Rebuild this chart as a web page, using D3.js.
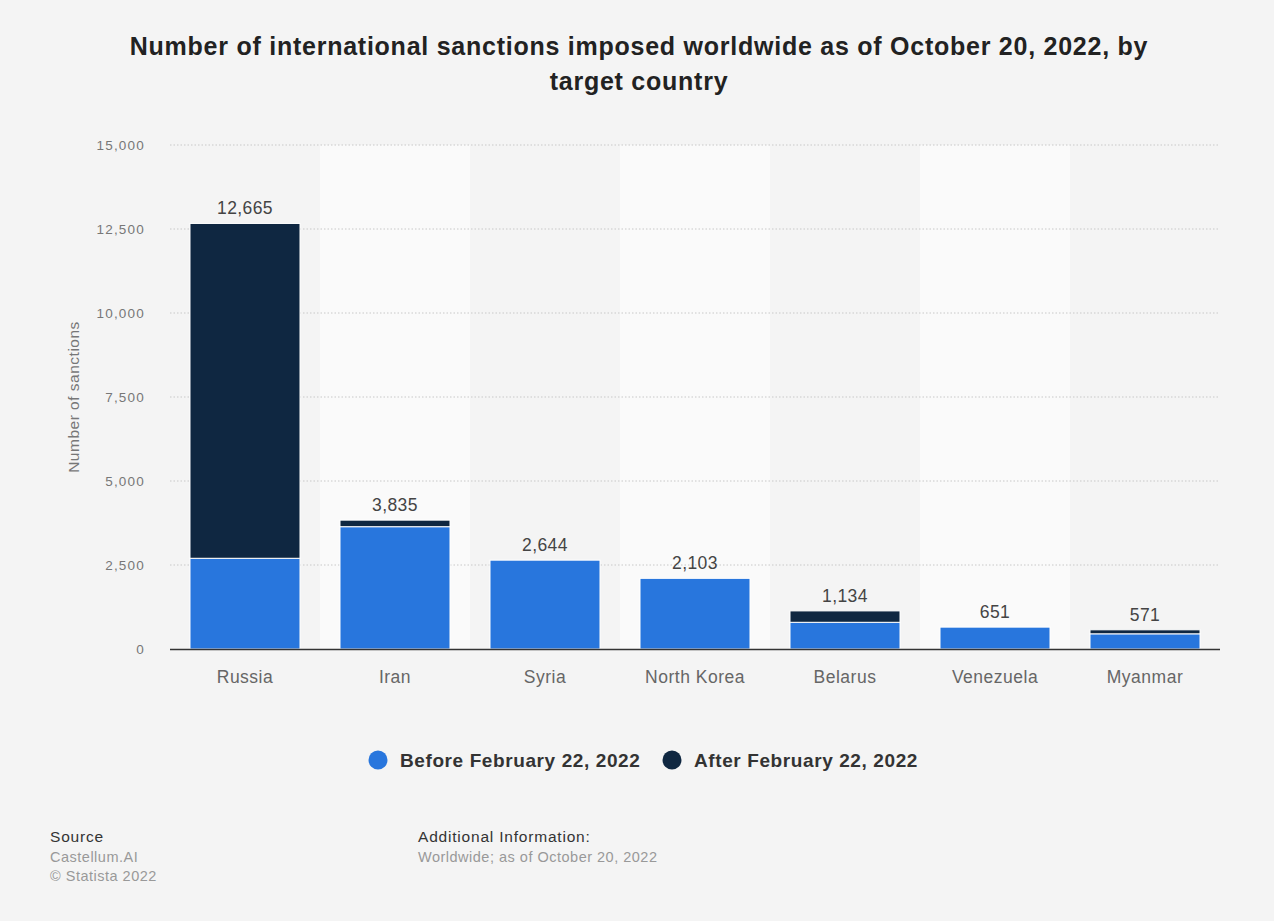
<!DOCTYPE html>
<html><head><meta charset="utf-8">
<script src="https://cdn.jsdelivr.net/npm/d3@7"></script>
<style>
body{margin:0;background:#f4f4f4;font-family:"Liberation Sans",Arial,Helvetica,sans-serif;}
</style></head>
<body>
<svg id="chart" width="1274" height="921"></svg>
<script>
const categories = ["Russia","Iran","Syria","North Korea","Belarus","Venezuela","Myanmar"];
const seriesNames = ["Before February 22, 2022","After February 22, 2022"];
const beforeValues = [2700, 3640, 2644, 2103, 795, 651, 452];
const afterValues = [9965, 195, 0, 0, 339, 0, 119];
const totalLabels = ["12,665","3,835","2,644","2,103","1,134","651","571"];
const yTicks = [0, 2500, 5000, 7500, 10000, 12500, 15000];
const colors = ["#2876dd", "#0f2741"];

const svg = d3.select("#chart");
svg.append("rect").attr("width",1274).attr("height",921).attr("fill","#f4f4f4");

const x = d3.scaleBand().domain(categories).range([170,1220]).paddingInner(0.2667).paddingOuter(0.1333);
const xBand = d3.scaleBand().domain(categories).range([170,1220]);
const y = d3.scaleLinear().domain([0,15000]).range([649,145]);

// alternating column backgrounds
svg.append("g").selectAll("rect").data(categories.filter((d,i)=>i%2===1)).join("rect")
  .attr("x",d=>xBand(d)).attr("width",xBand.bandwidth())
  .attr("y",y(15000)).attr("height",y(0)-y(15000)).attr("fill","#fafafa");

// grid
const grid = svg.append("g");
grid.selectAll("line").data(yTicks.filter(t=>t>0)).join("line")
  .attr("x1",170).attr("x2",1220).attr("y1",d=>y(d)).attr("y2",d=>y(d))
  .attr("stroke","#c8c8c8").attr("stroke-dasharray","1.5,2").attr("stroke-width",1);

// y axis
const yAxis = svg.append("g").attr("transform","translate(145,0)")
  .call(d3.axisLeft(y).tickValues(yTicks).tickSize(0).tickPadding(0).tickFormat(d3.format(",")));
yAxis.select(".domain").remove();
yAxis.selectAll("text").attr("fill","#777").attr("font-size",13.5).attr("letter-spacing",1.2)
  .attr("font-family","Liberation Sans, Arial, sans-serif");

svg.append("text").attr("transform","translate(79,397) rotate(-90)")
  .attr("text-anchor","middle").attr("fill","#777").attr("font-size",15.5).attr("letter-spacing",0.5)
  .text("Number of sanctions");

// stacked bars
const stackData = categories.map((c,i)=>({cat:c, before:beforeValues[i], after:afterValues[i]}));
const series = d3.stack().keys(["before","after"])(stackData);
svg.append("g").selectAll("g").data(series).join("g")
  .attr("fill",(d,i)=>colors[i])
  .selectAll("rect").data(d=>d.filter(p=>p[1]-p[0]>0)).join("rect")
  .attr("x",d=>x(d.data.cat)).attr("width",x.bandwidth())
  .attr("y",d=>y(d[1])).attr("height",d=>y(d[0])-y(d[1]))
  .attr("stroke","#ffffff").attr("stroke-width",1);

// baseline
svg.append("line").attr("x1",170).attr("x2",1220).attr("y1",649.5).attr("y2",649.5)
  .attr("stroke","#333").attr("stroke-width",1.5);

// value labels
svg.append("g").selectAll("text").data(stackData).join("text")
  .attr("x",d=>x(d.cat)+x.bandwidth()/2).attr("y",d=>y(d.before+d.after)-9)
  .attr("text-anchor","middle").attr("fill","#444").attr("font-size",17.5).attr("letter-spacing",0.4)
  .text((d,i)=>totalLabels[i]);

// x axis labels
const xAxis = svg.append("g").attr("transform","translate(0,649)")
  .call(d3.axisBottom(xBand).tickSize(0).tickPadding(22));
xAxis.select(".domain").remove();
xAxis.selectAll("text").attr("fill","#666").attr("font-size",17.5).attr("letter-spacing",0.5)
  .attr("font-family","Liberation Sans, Arial, sans-serif");

// title
const title = svg.append("text").attr("text-anchor","middle").attr("fill","#222")
  .attr("font-size",25).attr("font-weight","bold").attr("letter-spacing",0.75);
title.append("tspan").attr("x",639).attr("y",55).text("Number of international sanctions imposed worldwide as of October 20, 2022, by");
title.append("tspan").attr("x",639).attr("y",90).text("target country");

// legend
const legendX = [378, 672];
const lg = svg.append("g").selectAll("g").data(seriesNames).join("g")
  .attr("transform",(d,i)=>`translate(${legendX[i]},760)`);
lg.append("circle").attr("r",9.5).attr("fill",(d,i)=>colors[i]);
lg.append("text").attr("x",22).attr("y",7).attr("fill","#333").attr("font-size",19)
  .attr("font-weight","bold").attr("letter-spacing",0.6).text(d=>d);

// footer
svg.append("text").attr("x",50).attr("y",842).attr("fill","#333").attr("font-size",15.5).attr("letter-spacing",0.8).text("Source");
svg.append("text").attr("x",50).attr("y",862).attr("fill","#999").attr("font-size",14.5).attr("letter-spacing",0.5).text("Castellum.AI");
svg.append("text").attr("x",50).attr("y",881).attr("fill","#999").attr("font-size",14.5).attr("letter-spacing",0.5).text("© Statista 2022");
svg.append("text").attr("x",418).attr("y",842).attr("fill","#333").attr("font-size",15.5).attr("letter-spacing",0.8).text("Additional Information:");
svg.append("text").attr("x",418).attr("y",862).attr("fill","#999").attr("font-size",14.5).attr("letter-spacing",0.5).text("Worldwide; as of October 20, 2022");
</script>
</body></html>
